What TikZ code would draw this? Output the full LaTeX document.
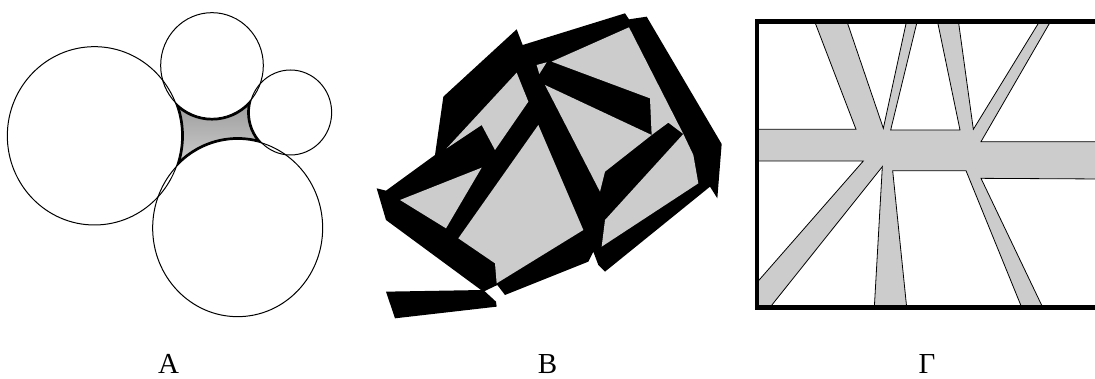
\documentclass[tikz,border=0pt]{standalone}
\usepackage{fontspec}
\setmainfont{Liberation Serif}
\definecolor{shade}{gray}{0.8}
\begin{document}
\begin{tikzpicture}[x=1pt, y=-1pt,
    ring/.style={draw=black, line width=1pt},
    rim/.style={draw=black, line width=4.4pt},
    patch/.style={fill=shade},
    caption/.style={anchor=base, inner sep=0pt, font=\fontsize{29}{34}\selectfont}]
    \useasboundingbox (0,0) rectangle (1095,379);

    % Left: four touching circles, gray gap between them
    \begin{scope}[scale=1/3]
        \fill[shade] (283.5,407.5) -- (636,196.5) -- (871.5,337.5) -- (713,684) -- cycle;
        \begin{scope}
            \clip (283.5,407.5) -- (636,196.5) -- (871.5,337.5) -- (713,684) -- cycle;
            \draw[rim] (283.5,407.5) ellipse [x radius=261.5, y radius=267.5];
            \draw[rim] (636,196.5) ellipse [x radius=154, y radius=158.5];
            \draw[rim] (871.5,337.5) ellipse [x radius=123.5, y radius=127.5];
            \draw[rim] (713,684) ellipse [x radius=255, y radius=266];
        \end{scope}
        \fill[white] (283.5,407.5) ellipse [x radius=261.5, y radius=267.5];
        \fill[white] (636,196.5) ellipse [x radius=154, y radius=158.5];
        \fill[white] (871.5,337.5) ellipse [x radius=123.5, y radius=127.5];
        \fill[white] (713,684) ellipse [x radius=255, y radius=266];
        \draw[ring] (283.5,407.5) ellipse [x radius=261.5, y radius=267.5];
        \draw[ring] (636,196.5) ellipse [x radius=154, y radius=158.5];
        \draw[ring] (871.5,337.5) ellipse [x radius=123.5, y radius=127.5];
        \draw[ring] (713,684) ellipse [x radius=255, y radius=266];
    \end{scope}
    \node[caption] (labA) at (168.5,373) {А};

    % Middle: black strips over gray pieces
    \begin{scope}[shift={(370,0)}, scale=1/3]
        \fill[black] (440,88) -- (458,135) -- (765,40) -- (777,58) -- (830,50)
            -- (1055,432) -- (1042,595) -- (1020,560) -- (705,815) -- (685,795)
            -- (670,755) -- (655,785) -- (405,885) -- (382,855) -- (340,875)
            -- (48,660) -- (20,565) -- (48,572) -- (195,465) -- (220,290) -- cycle;
        \fill[black] (48,875) -- (340,870) -- (378,905) -- (380,920) -- (75,955) -- cycle;
        \fill[patch] (545,185) -- (777,82) -- (940,402) -- (895,368) -- (845,405) -- (840,295) -- cycle;
        \fill[patch] (525,255) -- (845,405) -- (705,515) -- (690,575) -- cycle;
        \fill[patch] (90,600) -- (335,503) -- (228,685) -- cycle;
        \fill[patch] (230,445) -- (440,218) -- (475,305) -- (375,450) -- (335,375) -- cycle;
        \fill[patch] (505,375) -- (265,715) -- (375,790) -- (380,850) -- (640,690) -- cycle;
        \fill[patch] (695,740) -- (705,660) -- (940,402) -- (970,465) -- (985,550) -- cycle;
        \fill[patch] (500,195) -- (530,187) -- (508,222) -- cycle;
    \end{scope}
    \node[caption] (labB) at (547.5,373) {В};

    % Right: frame crossed by gray bands
    \begin{scope}[shift={(745,0)}, scale=1/3]
        \filldraw[fill=shade, draw=black, line width=0.8pt]
            (40,388) -- (333,388) -- (208,62) -- (305,62) -- (415,385) -- (485,62)
            -- (517,62) -- (437,390) -- (645,390) -- (577,62) -- (640,62) -- (685,388)
            -- (885,62) -- (918,62) -- (708,425) -- (1070,425) -- (1070,537) -- (708,535)
            -- (893,922) -- (830,922) -- (663,512) -- (443,512) -- (485,922) -- (388,922)
            -- (412,500) -- (75,922) -- (38,922) -- (38,845) -- (355,483) -- (38,483) -- cycle;
        \draw[line width=4.5pt] (36,64.5) rectangle (1110,922.5);
    \end{scope}
    \node[caption] (labG) at (927,373) {Г};
\end{tikzpicture}
\end{document}
